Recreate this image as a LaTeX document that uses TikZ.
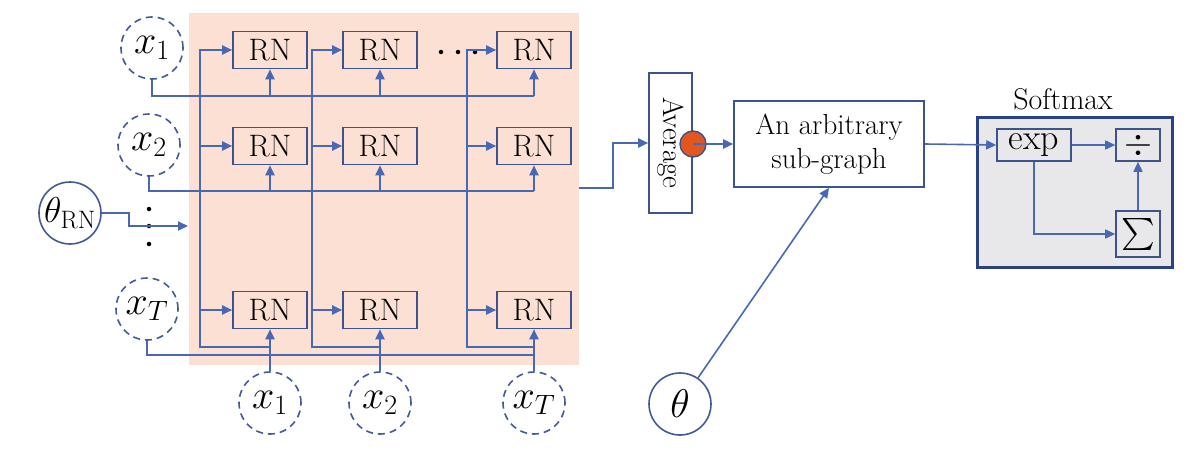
\RequirePackage{fix-cm}
\documentclass[tikz,border=0pt]{standalone}
\usepackage{fontspec}
\usepackage{graphicx}
\usetikzlibrary{arrows.meta}
\definecolor{wireblue}{RGB}{72,104,180}
\definecolor{boxblue}{RGB}{62,82,140}
\definecolor{circblue}{RGB}{66,90,150}
\definecolor{smblue}{RGB}{42,66,130}
\definecolor{pinkbg}{RGB}{251,224,211}
\definecolor{graybg}{RGB}{232,232,234}
\definecolor{orng}{RGB}{226,86,32}
\begin{document}
\begin{tikzpicture}[x=1pt,y=-1pt,
  wire/.style={draw=wireblue, line width=2pt},
  arr/.style={wire, -{Triangle[length=10pt,width=9pt]}},
  rn/.style={draw=boxblue, line width=1.6pt, minimum width=74pt, minimum height=37pt, inner sep=0pt, font=\fontsize{31}{31}\selectfont},
  vin/.style={circle, draw=circblue, dash pattern=on 7pt off 5pt, line width=1.6pt, minimum size=62pt, inner sep=0pt, font=\fontsize{40}{40}\selectfont},
  par/.style={circle, draw=circblue, line width=1.6pt, minimum size=62pt, inner sep=0pt},
  plain/.style={draw=boxblue, line width=1.6pt, fill=white, inner sep=0pt},
  sm/.style={draw=boxblue, line width=1.6pt, inner sep=0pt, fill=graybg},
  dot/.style={circle, fill=black, inner sep=0pt, minimum size=4.5pt}
]
\useasboundingbox (0,0) rectangle (1199,452);
% background
\fill[pinkbg] (189,13) rectangle (579,365);

% RN grid
\node[rn] (r11) at (270,50) {RN};
\node[rn] (r12) at (380,50) {RN};
\node[rn] (r13) at (534,50) {RN};
\node[rn] (r21) at (270,146) {RN};
\node[rn] (r22) at (380,146) {RN};
\node[rn] (r23) at (534,146) {RN};
\node[rn] (r31) at (270,310) {RN};
\node[rn] (r32) at (380,310) {RN};
\node[rn] (r33) at (534,310) {RN};

% left inputs
\node[vin] (xl1) at (152,48) {$x_1$};
\node[vin] (xl2) at (149,145) {$x_2$};
\node[vin] (xl3) at (147,309) {$x_T$};
% bottom inputs
\node[vin] (xb1) at (270,403) {$x_1$};
\node[vin] (xb2) at (380,403) {$x_2$};
\node[vin] (xb3) at (534,403) {$x_T$};
% theta_RN
\node[par, font=\fontsize{36}{36}\selectfont] (trn) at (70,213) {$\theta_{\mathrm{RN}}$};

% dots
\node[dot] (dv1) at (149,209) {};
\node[dot] (dv2) at (149,226) {};
\node[dot] (dv3) at (149,244) {};
\node[dot] (dh1) at (441,52) {};
\node[dot] (dh2) at (458,52) {};
\node[dot] (dh3) at (475,52) {};

% column verticals
\coordinate (v1) at (200,347);
\coordinate (v2) at (312,347);
\coordinate (v3) at (467,347);
\foreach \c in {1,2,3}{
  \draw[arr] (xb\c.north |- v\c) -- (v\c) |- (r1\c.west);
  \draw[arr] (v\c |- r2\c.west) -- (r2\c.west);
  \draw[arr] (v\c |- r3\c.west) -- (r3\c.west);
}
% row buses
\coordinate (b1) at (534,96);
\coordinate (b2) at (534,191);
\coordinate (b3) at (534,355);
\draw[wire] (xl1.south) |- (b1);
\draw[wire] (xl2.south) |- (b2);
\draw[wire] (xl3.south) |- (b3);
\foreach \c in {1,2,3}{
  \draw[arr] (r1\c.south |- b1) -- (r1\c.south);
  \draw[arr] (r2\c.south |- b2) -- (r2\c.south);
  \draw[arr] (xb\c.north) -- (r3\c.south);
}
% theta_RN input
\coordinate (tk) at (129,213);
\coordinate (tin) at (188,226);
\draw[arr] (trn.east) -- (tk) |- (tin);

% Average
\node[plain, minimum width=43pt, minimum height=140pt] (avg) at (670.5,143) {};
\node[rotate=-90, font=\fontsize{29}{29}\selectfont] (avgt) at (avg.center) {Average};
\coordinate (po) at (579,188);
\coordinate (pk) at (613,188);
\draw[arr] (po) -- (pk) |- (avg.west);

% sub-graph
\node[plain, minimum width=190pt, minimum height=86pt, align=center, font=\fontsize{29}{34}\selectfont] (sub) at (829,144) {An arbitrary\\sub-graph};
\node[circle, draw=boxblue, fill=orng, line width=1.4pt, minimum size=26pt, inner sep=0pt] (oc) at (693,144) {};
\draw[arr] (oc.center) -- (sub.west);

% theta
\node[par, font=\fontsize{40}{40}\selectfont] (th) at (680,404) {$\theta$};
\draw[arr, line width=1.6pt] (th) -- (sub.south);

% Softmax
\node[draw=smblue, line width=3pt, fill=graybg, minimum width=195pt, minimum height=150pt, inner sep=0pt] (smx) at (1074.5,192) {};
\node[font=\fontsize{30}{30}\selectfont, anchor=base] (smt) at (1063,109) {Softmax};
\node[sm, minimum width=74pt, minimum height=32pt, font=\fontsize{36}{36}\selectfont] (ex) at (1034,145) {exp};
\node[sm, minimum width=44pt, minimum height=32pt, font=\fontsize{36}{36}\selectfont] (dv) at (1138,145) {$\div$};
\node[sm, minimum width=44pt, minimum height=46pt, font=\fontsize{10}{10}\selectfont] (su) at (1138,234) {\scalebox{3.2}{$\sum$}};
\draw[arr, line width=1.6pt] (sub.east) -- (ex.west);
\draw[arr, line width=1.6pt] (ex.east) -- (dv.west);
\draw[arr, line width=1.6pt] (ex.south) |- (su.west);
\draw[arr, line width=1.6pt] (su.north) -- (dv.south);
\end{tikzpicture}
\end{document}
